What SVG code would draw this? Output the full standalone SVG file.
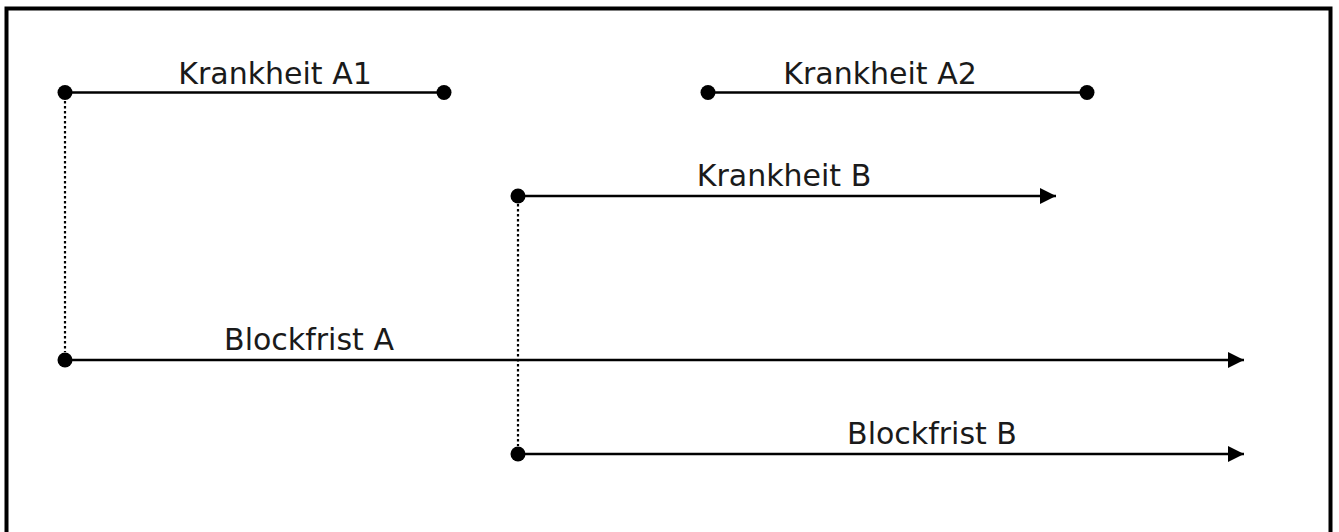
<svg xmlns="http://www.w3.org/2000/svg" width="1339" height="532" viewBox="0 0 1339 532">
  <style>
    .label { font-family: "DejaVu Sans", "Open Sans", sans-serif; font-size: 30px; fill: #1a1a1a; }
    .span { stroke: #000; stroke-width: 2.5; fill: none; }
    .guide { stroke: #000; stroke-width: 2.2; stroke-dasharray: 2.5 2.5; fill: none; }
    .dot { fill: #000; }
  </style>
  <defs>
    <marker id="arrow" viewBox="0 0 16 16" refX="16" refY="8" markerWidth="16" markerHeight="16" markerUnits="userSpaceOnUse" orient="auto">
      <path d="M0,0 L16,8 L0,16 Z" fill="#000"/>
    </marker>
  </defs>

  <rect width="1339" height="532" fill="#fff"/>
  <!-- frame, open at the bottom edge -->
  <path d="M6.5,540 V8.5 H1330.5 V540" fill="none" stroke="#000" stroke-width="4"/>

  <g id="connectors">
    <line class="guide" x1="65" y1="101" x2="65" y2="352"/>
    <line class="guide" x1="518" y1="204" x2="518" y2="446"/>
  </g>

  <g id="krankheit-a1">
    <line class="span" x1="65" y1="92.5" x2="444" y2="92.5"/>
    <circle class="dot" cx="65" cy="92.5" r="7.5"/>
    <circle class="dot" cx="444" cy="92.5" r="7.5"/>
    <text class="label" x="275" y="84" text-anchor="middle">Krankheit A1</text>
  </g>

  <g id="krankheit-a2">
    <line class="span" x1="708" y1="92.5" x2="1087" y2="92.5"/>
    <circle class="dot" cx="708" cy="92.5" r="7.5"/>
    <circle class="dot" cx="1087" cy="92.5" r="7.5"/>
    <text class="label" x="880" y="84" text-anchor="middle">Krankheit A2</text>
  </g>

  <g id="krankheit-b">
    <line class="span" x1="518" y1="196" x2="1056" y2="196" marker-end="url(#arrow)"/>
    <circle class="dot" cx="518" cy="196" r="7.5"/>
    <text class="label" x="784" y="186" text-anchor="middle">Krankheit B</text>
  </g>

  <g id="blockfrist-a">
    <line class="span" x1="65" y1="360" x2="1244" y2="360" marker-end="url(#arrow)"/>
    <circle class="dot" cx="65" cy="360" r="7.5"/>
    <text class="label" x="309" y="350" text-anchor="middle">Blockfrist A</text>
  </g>

  <g id="blockfrist-b">
    <line class="span" x1="518" y1="454" x2="1244" y2="454" marker-end="url(#arrow)"/>
    <circle class="dot" cx="518" cy="454" r="7.5"/>
    <text class="label" x="932" y="444" text-anchor="middle">Blockfrist B</text>
  </g>
</svg>
